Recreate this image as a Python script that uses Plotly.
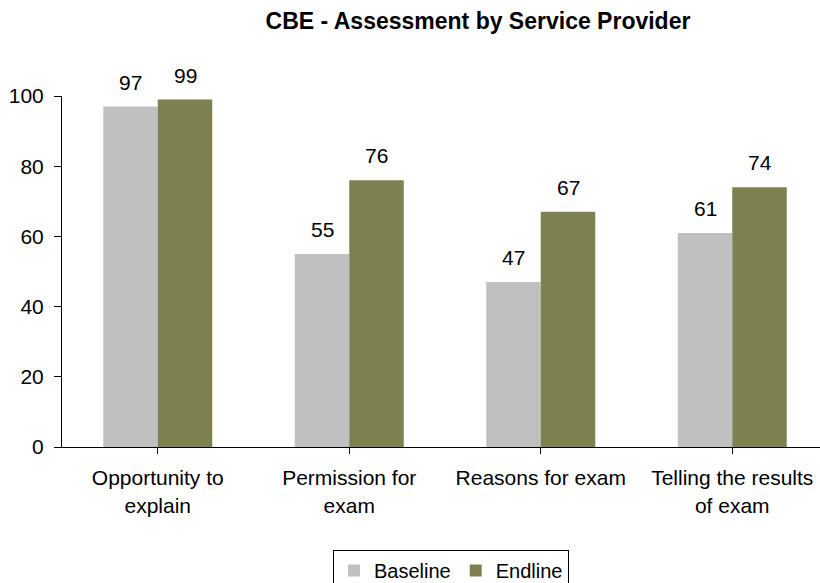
import plotly.graph_objects as go

categories = ["Opportunity to<br>explain", "Permission for<br>exam", "Reasons for exam", "Telling the results<br>of exam"]
baseline = [97, 55, 47, 61]
endline = [99, 76, 67, 74]

FONT = "Liberation Sans, Arial, sans-serif"
W, H = 820, 583
ml, mr, mt, mb = 62, 0, 96, 136
n = len(categories)
cat_px = 191.5
pw = W - ml - mr
xmax = -0.5 + pw / cat_px
ph = H - mt - mb

fig = go.Figure()
fig.add_bar(name="Baseline", x=list(range(n)), y=baseline, marker_color="#C0C0C0", marker_line_width=0)
fig.add_bar(name="Endline", x=list(range(n)), y=endline, marker_color="#7F8050", marker_line_width=0)

gap = 1 - 109 / cat_px
off = (1 - gap) / 4
ann = []
for i in range(n):
    for v, dx in ((baseline[i], -off), (endline[i], off)):
        ann.append(dict(x=i + dx, y=v, xref="x", yref="y", text=str(v), showarrow=False,
                        yanchor="bottom", yshift=11, font=dict(family=FONT, size=21, color="#000")))

fig.update_layout(
    width=W, height=H,
    margin=dict(l=ml, r=mr, t=mt, b=mb, autoexpand=False),
    paper_bgcolor="white", plot_bgcolor="white",
    barmode="group", bargap=gap, bargroupgap=0,
    font=dict(family=FONT, size=21, color="#000"),
    title=dict(text="<b>CBE - Assessment by Service Provider</b>", x=478 / W, xanchor="center",
               y=1 - 21 / H, yanchor="middle", font=dict(family=FONT, size=23, color="#000")),
    annotations=ann,
    showlegend=True,
    legend=dict(orientation="h", x=(333 - ml) / pw, xanchor="left", y=-(550 - (H - mb)) / ph, yanchor="top",
                bordercolor="#000", borderwidth=1, font=dict(family=FONT, size=20, color="#000"),
                itemwidth=30, tracegroupgap=0),
)
fig.update_xaxes(
    tickmode="array", tickvals=list(range(n)), ticktext=categories,
    range=[-0.5, xmax], showline=True, linecolor="#000", linewidth=1,
    ticks="outside", ticklen=6, tickcolor="#000", tickson="boundaries",
    showgrid=False, zeroline=False, tickfont=dict(family=FONT, size=21), automargin=False,
    ticklabelstandoff=6,
)
fig.update_yaxes(
    range=[0, 100], tickvals=[0, 20, 40, 60, 80, 100], showline=True, linecolor="#000", linewidth=1,
    ticks="outside", ticklen=7, tickcolor="#000", showgrid=False, zeroline=False,
    tickfont=dict(family=FONT, size=21), ticklabelstandoff=6, automargin=False,
)
fig.write_html("out.html", config={"displayModeBar": False},
               post_script="document.body.style.margin='0';document.body.style.overflow='hidden';")
